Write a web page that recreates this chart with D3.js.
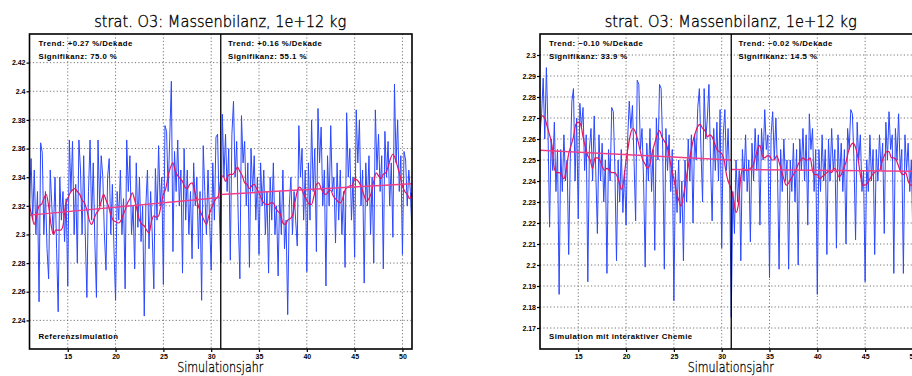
<!DOCTYPE html>
<html><head><meta charset="utf-8">
<script src="https://cdn.jsdelivr.net/npm/d3@7"></script>
<style>html,body{margin:0;padding:0;background:#fff;overflow:hidden}</style>
</head><body><svg id="c" width="912" height="376"></svg>
<script>
// ---------------- DATA ----------------
const yearStart = 11, yearEnd = 51, yearSplit = 31;
const blueStepsPerYear = 6;   // bi-monthly samples
const redStepsPerYear = 4;    // quarterly samples of the running mean

const xTicks = [15, 20, 25, 30, 35, 40, 45, 50];
const yTicksRef = [2.24, 2.26, 2.28, 2.30, 2.32, 2.34, 2.36, 2.38, 2.40, 2.42];
const yTicksChem = [2.17, 2.18, 2.19, 2.20, 2.21, 2.22, 2.23, 2.24, 2.25, 2.26, 2.27, 2.28, 2.29, 2.30];

const blueRef = [
2.325,2.353,2.310,2.345,2.300,2.330,
2.253,2.364,2.357,2.300,2.330,2.290,
2.269,2.345,2.320,2.300,2.340,2.290,
2.246,2.340,2.310,2.330,2.295,2.325,
2.264,2.366,2.330,2.365,2.300,2.335,
2.280,2.366,2.345,2.300,2.355,2.300,
2.256,2.330,2.366,2.310,2.350,2.295,
2.256,2.366,2.320,2.355,2.340,2.300,
2.275,2.340,2.353,2.300,2.335,2.290,
2.254,2.330,2.310,2.345,2.300,2.325,
2.262,2.366,2.330,2.355,2.300,2.320,
2.276,2.350,2.305,2.340,2.295,2.320,
2.243,2.320,2.345,2.290,2.330,2.300,
2.262,2.346,2.310,2.362,2.320,2.340,
2.265,2.376,2.372,2.330,2.368,2.407,
2.288,2.358,2.330,2.366,2.320,2.345,
2.273,2.360,2.310,2.345,2.300,2.330,
2.283,2.350,2.320,2.340,2.290,2.330,
2.254,2.362,2.330,2.300,2.345,2.310,
2.275,2.350,2.310,2.368,2.370,2.320,
2.280,2.384,2.340,2.370,2.330,2.360,
2.282,2.370,2.393,2.340,2.365,2.310,
2.269,2.383,2.350,2.365,2.320,2.350,
2.277,2.360,2.330,2.355,2.310,2.340,
2.286,2.350,2.320,2.345,2.300,2.330,
2.273,2.340,2.310,2.350,2.300,2.320,
2.271,2.330,2.300,2.345,2.290,2.310,
2.244,2.320,2.340,2.300,2.330,2.310,
2.292,2.376,2.340,2.360,2.310,2.345,
2.274,2.350,2.310,2.380,2.330,2.360,
2.288,2.388,2.350,2.375,2.320,2.345,
2.264,2.355,2.320,2.376,2.330,2.340,
2.294,2.350,2.310,2.345,2.300,2.330,
2.277,2.385,2.340,2.360,2.310,2.340,
2.284,2.387,2.350,2.380,2.320,2.345,
2.266,2.350,2.320,2.355,2.300,2.340,
2.280,2.387,2.345,2.370,2.330,2.355,
2.276,2.372,2.340,2.365,2.320,2.350,
2.298,2.405,2.350,2.380,2.330,2.355,
2.286,2.358,2.352,2.320,2.345,2.330,
2.300];

const redRef = [
2.320,2.313,2.307,2.314,2.320,2.321,2.325,2.328,
2.320,2.307,2.300,2.303,2.303,2.303,2.306,2.320,
2.325,2.329,2.331,2.332,2.330,2.328,2.324,2.322,
2.317,2.310,2.307,2.311,2.315,2.317,2.323,2.328,
2.324,2.320,2.314,2.310,2.309,2.308,2.309,2.313,
2.317,2.322,2.325,2.329,2.324,2.317,2.310,2.307,
2.306,2.303,2.301,2.309,2.313,2.312,2.313,2.320,
2.328,2.332,2.341,2.347,2.350,2.344,2.341,2.339,
2.337,2.333,2.332,2.335,2.336,2.331,2.324,2.318,
2.314,2.310,2.307,2.313,2.318,2.322,2.325,2.327,
2.338,2.341,2.337,2.341,2.342,2.342,2.344,2.347,
2.344,2.341,2.336,2.335,2.332,2.334,2.335,2.332,
2.329,2.325,2.322,2.321,2.321,2.322,2.322,2.318,
2.316,2.314,2.308,2.307,2.310,2.311,2.313,2.322,
2.330,2.333,2.331,2.327,2.324,2.321,2.321,2.327,
2.335,2.336,2.332,2.329,2.328,2.330,2.331,2.327,
2.325,2.323,2.322,2.325,2.331,2.333,2.334,2.334,
2.339,2.338,2.336,2.332,2.327,2.323,2.325,2.329,
2.337,2.343,2.341,2.339,2.342,2.343,2.347,2.353,
2.356,2.353,2.347,2.341,2.334,2.330,2.328,2.325,
2.329];

const trendRefA = [2.3135, 2.3258];  // values at yearStart, yearSplit
const trendRefB = [2.3279, 2.3355];  // values at yearSplit, yearEnd

const blueChem = [
2.262,2.272,2.289,2.260,2.294,2.265,
2.218,2.260,2.245,2.268,2.235,2.255,
2.186,2.255,2.235,2.262,2.240,2.250,
2.205,2.250,2.278,2.284,2.240,2.270,
2.222,2.277,2.265,2.275,2.245,2.262,
2.192,2.255,2.265,2.240,2.271,2.245,
2.215,2.262,2.240,2.258,2.230,2.250,
2.196,2.255,2.240,2.275,2.273,2.245,
2.202,2.250,2.230,2.255,2.225,2.245,
2.219,2.260,2.278,2.265,2.276,2.250,
2.221,2.288,2.286,2.255,2.265,2.240,
2.199,2.258,2.240,2.265,2.235,2.255,
2.207,2.270,2.250,2.286,2.284,2.255,
2.198,2.265,2.245,2.262,2.235,2.255,
2.183,2.245,2.225,2.250,2.220,2.240,
2.202,2.250,2.230,2.260,2.240,2.262,
2.220,2.262,2.250,2.275,2.284,2.255,
2.230,2.284,2.260,2.270,2.286,2.250,
2.221,2.265,2.245,2.268,2.240,2.274,
2.208,2.262,2.274,2.245,2.265,2.240,
2.175,2.235,2.215,2.250,2.230,2.245,
2.202,2.255,2.240,2.262,2.235,2.250,
2.211,2.258,2.240,2.265,2.245,2.262,
2.219,2.265,2.250,2.274,2.255,2.262,
2.194,2.262,2.273,2.250,2.270,2.245,
2.198,2.255,2.235,2.260,2.240,2.250,
2.198,2.250,2.235,2.258,2.230,2.255,
2.200,2.260,2.245,2.265,2.240,2.262,
2.219,2.272,2.255,2.265,2.235,2.255,
2.186,2.255,2.235,2.262,2.240,2.255,
2.205,2.260,2.240,2.265,2.245,2.255,
2.208,2.262,2.240,2.258,2.235,2.255,
2.210,2.265,2.255,2.274,2.272,2.250,
2.212,2.268,2.250,2.262,2.235,2.245,
2.192,2.250,2.235,2.262,2.240,2.255,
2.205,2.255,2.240,2.262,2.245,2.258,
2.215,2.268,2.250,2.273,2.255,2.262,
2.196,2.265,2.250,2.272,2.245,2.255,
2.196,2.262,2.245,2.258,2.235,2.250,
2.210,2.255,2.240,2.260,2.240,2.250,
2.235];

const redChem = [
2.268,2.271,2.270,2.266,2.262,2.257,2.246,2.244,
2.244,2.243,2.241,2.246,2.253,2.257,2.261,2.267,
2.268,2.267,2.261,2.256,2.252,2.250,2.246,2.251,
2.251,2.250,2.247,2.245,2.246,2.245,2.244,2.244,
2.243,2.240,2.236,2.240,2.250,2.257,2.263,2.265,
2.263,2.259,2.254,2.250,2.248,2.246,2.248,2.254,
2.258,2.262,2.264,2.261,2.259,2.257,2.252,2.246,
2.241,2.235,2.231,2.228,2.233,2.240,2.247,2.253,
2.259,2.263,2.266,2.267,2.265,2.264,2.261,2.262,
2.261,2.258,2.255,2.254,2.253,2.250,2.243,2.239,
2.236,2.231,2.225,2.229,2.242,2.246,2.245,2.245,
2.246,2.247,2.251,2.255,2.257,2.252,2.251,2.252,
2.252,2.250,2.250,2.252,2.249,2.245,2.241,2.238,
2.239,2.241,2.243,2.245,2.248,2.250,2.251,2.250,
2.250,2.251,2.245,2.243,2.243,2.241,2.242,2.243,
2.244,2.245,2.244,2.246,2.245,2.242,2.243,2.246,
2.249,2.254,2.257,2.258,2.256,2.251,2.243,2.238,
2.238,2.239,2.241,2.243,2.244,2.245,2.245,2.249,
2.252,2.254,2.254,2.251,2.251,2.250,2.247,2.244,
2.243,2.244,2.240,2.238,2.238,2.239,2.240,2.241,
2.242];

const trendChemA = [2.2546, 2.2500];
const trendChemB = [2.2455, 2.2446];

const titleText = "strat. O3: Massenbilanz, 1e+12 kg";
const xLabelText = "Simulationsjahr";
const annotRef = ["Trend: +0.27 %/Dekade", "Signifikanz: 75.0 %", "Trend: +0.16 %/Dekade", "Signifikanz: 55.1 %", "Referenzsimulation"];
const annotChem = ["Trend: \u22120.10 %/Dekade", "Signifikanz: 33.9 %", "Trend: \u22120.02 %/Dekade", "Signifikanz: 14.5 %", "Simulation mit interaktiver Chemie"];

// ---------------- DRAW ----------------
const svg = d3.select("#c");
const plotTop = 34, plotBottom = 349;
const panels = [
  {x0: 29.5, x1: 412, yDomain: [2.22, 2.44], yTicks: yTicksRef, blue: blueRef, red: redRef, tA: trendRefA, tB: trendRefB, annot: annotRef},
  {x0: 540, x1: 922.5, yDomain: [2.16, 2.31], yTicks: yTicksChem, blue: blueChem, red: redChem, tA: trendChemA, tB: trendChemB, annot: annotChem}
];
const smallFont = "'Liberation Sans', Arial, sans-serif";

panels.forEach(p => {
  const x = d3.scaleLinear().domain([yearStart, yearEnd]).range([p.x0, p.x1]);
  const y = d3.scaleLinear().domain(p.yDomain).range([plotBottom, plotTop]);
  const g = svg.append("g");

  // grid
  g.append("g").selectAll("line").data(p.yTicks).join("line")
    .attr("x1", p.x0).attr("x2", p.x1)
    .attr("y1", d => y(d)).attr("y2", d => y(d))
    .attr("stroke", "#777").attr("stroke-width", 1).attr("stroke-dasharray", "1.2,2.2");
  g.append("g").selectAll("line").data(xTicks).join("line")
    .attr("x1", d => x(d)).attr("x2", d => x(d))
    .attr("y1", plotTop).attr("y2", plotBottom)
    .attr("stroke", "#777").attr("stroke-width", 1).attr("stroke-dasharray", "1.2,2.2");

  // clip
  const cid = "clip" + Math.round(p.x0);
  svg.append("clipPath").attr("id", cid).append("rect")
    .attr("x", p.x0).attr("y", plotTop).attr("width", p.x1 - p.x0).attr("height", plotBottom - plotTop);
  const gc = g.append("g").attr("clip-path", `url(#${cid})`);

  // blue series
  gc.append("path").datum(p.blue)
    .attr("fill", "none").attr("stroke", "#2b48ff").attr("stroke-width", 1)
    .attr("stroke-linejoin", "round")
    .attr("d", d3.line().x((d, i) => x(yearStart + i / blueStepsPerYear)).y(d => y(d)));

  // red running mean
  gc.append("path").datum(p.red)
    .attr("fill", "none").attr("stroke", "#e2155f").attr("stroke-width", 1.2)
    .attr("d", d3.line().curve(d3.curveMonotoneX).x((d, i) => x(yearStart + i / redStepsPerYear)).y(d => y(d)));

  // trend lines
  const tl = d3.line().x(d => x(d[0])).y(d => y(d[1]));
  gc.append("path").datum([[yearStart, p.tA[0]], [yearSplit, p.tA[1]]])
    .attr("fill", "none").attr("stroke", "#ef3f86").attr("stroke-width", 1.5).attr("d", tl);
  gc.append("path").datum([[yearSplit, p.tB[0]], [yearEnd, p.tB[1]]])
    .attr("fill", "none").attr("stroke", "#ef3f86").attr("stroke-width", 1.5).attr("d", tl);

  // divider
  g.append("line").attr("x1", x(yearSplit)).attr("x2", x(yearSplit))
    .attr("y1", plotTop).attr("y2", plotBottom).attr("stroke", "#000").attr("stroke-width", 1.3);

  // frame
  g.append("rect").attr("x", p.x0).attr("y", plotTop).attr("width", p.x1 - p.x0).attr("height", plotBottom - plotTop)
    .attr("fill", "none").attr("stroke", "#000").attr("stroke-width", 1.6);

  // axes
  const ay = g.append("g").attr("transform", `translate(${p.x0},0)`)
    .call(d3.axisLeft(y).tickValues(p.yTicks).tickSize(3).tickSizeOuter(0).tickFormat(d3.format("~r")));
  const ax = g.append("g").attr("transform", `translate(0,${plotBottom})`)
    .call(d3.axisBottom(x).tickValues(xTicks).tickSize(3).tickSizeOuter(0).tickFormat(d3.format("d")));
  [ay, ax].forEach(a => {
    a.select(".domain").remove();
    a.selectAll(".tick line").attr("stroke", "#000").attr("stroke-width", 1.2);
    a.selectAll(".tick text").attr("fill", "#000").style("font-family", smallFont)
      .style("font-size", "7px").style("font-weight", "bold");
  });
  ay.selectAll(".tick text").attr("x", -4);
  ax.selectAll(".tick text").attr("y", 5);

  const cx = (p.x0 + p.x1) / 2 - 0.5;
  g.append("text").attr("x", cx).attr("y", 27).attr("text-anchor", "middle")
    .attr("textLength", 252).attr("lengthAdjust", "spacingAndGlyphs")
    .style("font-family", "'DejaVu Sans', sans-serif").style("font-size", "15px").style("font-weight", 300)
    .attr("fill", "#000").attr("stroke", "#000").attr("stroke-width", 0.35).text(titleText);
  g.append("text").attr("x", cx).attr("y", 372).attr("text-anchor", "middle")
    .attr("textLength", 86).attr("lengthAdjust", "spacingAndGlyphs")
    .style("font-family", "'DejaVu Sans', sans-serif").style("font-size", "13.5px").style("font-weight", 300)
    .attr("fill", "#000").attr("stroke", "#000").attr("stroke-width", 0.3).text(xLabelText);

  const ann = [
    {t: p.annot[0], x: p.x0 + 9, y: 45.5},
    {t: p.annot[1], x: p.x0 + 9, y: 59},
    {t: p.annot[2], x: x(yearSplit) + 7.3, y: 45.5},
    {t: p.annot[3], x: x(yearSplit) + 7.3, y: 59},
    {t: p.annot[4], x: p.x0 + 9, y: 338.5}
  ];
  g.append("g").selectAll("text").data(ann).join("text")
    .attr("x", d => d.x).attr("y", d => d.y)
    .style("font-family", smallFont).style("font-size", "7.8px").style("font-weight", "bold")
    .style("letter-spacing", "0.45px")
    .attr("fill", "#000").text(d => d.t);
});
</script></body></html>
